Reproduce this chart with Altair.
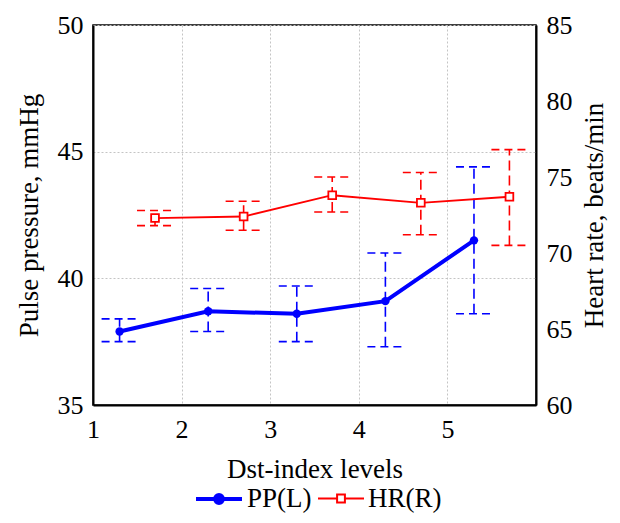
import altair as alt
import pandas as pd

# ---- data ----
series_names = ["PP(L)", "HR(R)"]

pp_level = [1.3, 2.3, 3.3, 4.3, 5.3]
pp_mean = [37.9, 38.7, 38.6, 39.1, 41.5]
pp_low = [37.5, 37.9, 37.5, 37.3, 38.6]
pp_high = [38.4, 39.6, 39.7, 41.0, 44.4]

hr_level = [1.7, 2.7, 3.7, 4.7, 5.7]
hr_mean = [72.3, 72.4, 73.8, 73.3, 73.7]
hr_low = [71.8, 71.5, 72.7, 71.2, 70.5]
hr_high = [72.8, 73.4, 75.0, 75.3, 76.8]

x_ticks = [1, 2, 3, 4, 5]
pp_ticks = [35, 40, 45, 50]
hr_ticks = [60, 65, 70, 75, 80, 85]

BLUE = "#0000ff"
RED = "#ff0000"
FONT = "Liberation Serif"

pp_df = pd.DataFrame({"level": pp_level, "mean": pp_mean, "low": pp_low, "high": pp_high})
hr_df = pd.DataFrame({"level": hr_level, "mean": hr_mean, "low": hr_low, "high": hr_high})
legend_df = pd.DataFrame({"series": series_names})

x_axis = alt.Axis(values=x_ticks, title="Dst-index levels", labelFlush=False,
                  grid=True, ticks=False, labelPadding=11, titlePadding=14)
x_scale = alt.Scale(domain=[1, 6], nice=False, zero=False)


def X(field="level"):
    return alt.X(f"{field}:Q", scale=x_scale, axis=x_axis)


def Ypp(field):
    return alt.Y(f"{field}:Q", scale=alt.Scale(domain=[35, 50], nice=False, zero=False),
                 axis=alt.Axis(values=pp_ticks, title="Pulse pressure, mmHg", orient="left",
                               grid=True, ticks=False, labelPadding=10, titlePadding=14))


def Yhr(field):
    return alt.Y(f"{field}:Q", scale=alt.Scale(domain=[60, 85], nice=False, zero=False),
                 axis=alt.Axis(values=hr_ticks, title="Heart rate, beats/min", orient="right",
                               grid=False, ticks=False, labelPadding=10, titlePadding=9,
                               titleAngle=270, titleBaseline="top"))


def series_layers(df, Y, color, line_w, marker):
    base = alt.Chart(df)
    err = base.mark_rule(color=color, strokeWidth=1.6, strokeDash=[10, 5]).encode(
        x=X(), y=Y("low"), y2="high")
    cap_lo = base.mark_rule(color=color, strokeWidth=1.6, strokeDash=[8, 5],
                            xOffset=-18, x2Offset=18).encode(x=X(), x2="level", y=Y("low"))
    cap_hi = base.mark_rule(color=color, strokeWidth=1.6, strokeDash=[8, 5],
                            xOffset=-18, x2Offset=18).encode(x=X(), x2="level", y=Y("high"))
    line = base.mark_line(color=color, strokeWidth=line_w).encode(x=X(), y=Y("mean"))
    pts = base.mark_point(**marker).encode(x=X(), y=Y("mean"))
    return [err, cap_lo, cap_hi, line, pts]


pp_layers = series_layers(pp_df, Ypp, BLUE, 4,
                          dict(shape="circle", filled=True, color=BLUE, size=70, opacity=1))
hr_layers = series_layers(hr_df, Yhr, RED, 1.8,
                          dict(shape="square", filled=False, stroke=RED, fill="white",
                               fillOpacity=1, strokeWidth=1.8, size=60, opacity=1))

pp_path = "M-1,0L1,0M0.17,0A0.17,0.17 0 1 1 -0.17,0A0.17,0.17 0 1 1 0.17,0Z"
hr_path = "M-1,0L-0.17,0M0.17,0L1,0M-0.17,-0.17L0.17,-0.17L0.17,0.17L-0.17,0.17Z"

legend_layer = alt.Chart(legend_df).transform_filter("false").mark_point(
    opacity=1, fillOpacity=1, strokeOpacity=1).encode(
    shape=alt.Shape("series:N", scale=alt.Scale(domain=series_names, range=[pp_path, hr_path]),
                    legend=alt.Legend(title=None, orient="none", direction="horizontal",
                                      legendX=101, legendY=449, symbolSize=2116,
                                      labelFont=FONT, labelFontSize=27, labelColor="black",
                                      labelOffset=3, columnPadding=2)),
    fill=alt.Fill("series:N", scale=alt.Scale(domain=series_names, range=[BLUE, "white"])),
    stroke=alt.Stroke("series:N", scale=alt.Scale(domain=series_names, range=[BLUE, RED])),
    strokeWidth=alt.StrokeWidth("series:N", scale=alt.Scale(domain=series_names, range=[4, 2])),
)

pp_chart = alt.layer(*pp_layers, legend_layer)
hr_chart = alt.layer(*hr_layers)

chart = alt.layer(pp_chart, hr_chart).resolve_scale(y="independent").properties(
    width=443, height=380,
    padding={"left": 85, "top": 17, "right": 76, "bottom": 110},
    autosize=alt.AutoSizeParams(type="none"),
).configure(font=FONT).configure_view(
    stroke="black", strokeWidth=1.5
).configure_axis(
    labelFont=FONT, labelFontSize=26, labelColor="black",
    titleFont=FONT, titleFontSize=27, titleColor="black", titleFontWeight="normal",
    domainColor="black", domainWidth=2,
    gridColor="#c4c4c4", gridDash=[2, 2], gridWidth=1,
)

chart.save("out.html", embed_options={"renderer": "svg", "actions": False})
